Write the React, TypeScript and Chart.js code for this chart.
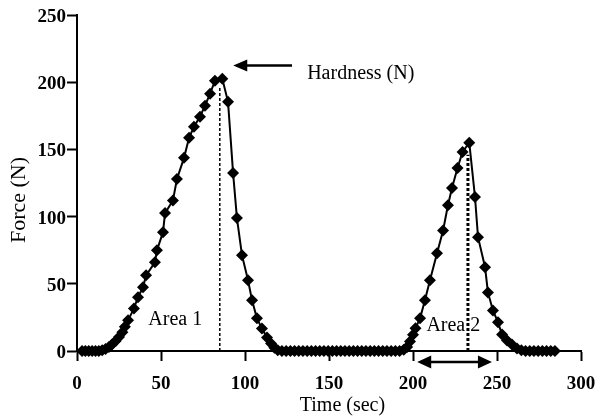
import React, { useEffect, useRef } from 'react';
import { Chart, registerables } from 'chart.js';

Chart.register(...registerables);

// Texture analyser trace: time (s) and force (N) for two compression cycles
const timeSec = [
  3, 5, 7, 9, 11, 13, 15,
  17, 19, 21, 23, 25, 27, 28.5, 30.4, 33.9, 36.3, 39.3, 41.1, 46.4, 47.6, 51.2, 52.4, 57.1, 59.5,
  63.7, 66.7, 69.6, 73.2, 76.2, 79.2, 82.1, 86.5,
  89.9, 92.9, 95.2, 98.2, 101.8, 104.2, 107.1, 110.1, 113.1, 115.5, 117.5, 119.5,
  122, 124.5, 127, 129.5, 132, 134.5, 137, 139.5, 142, 144.5, 147, 149.5, 152, 154.5, 157,
  159.5, 162, 164.5, 167, 169.5, 172, 174.5, 177, 179.5, 182, 184.5, 187, 189.5, 192,
  194.5, 196.5, 198.2, 200, 201.5, 204.2, 207.1, 210.1, 214.3, 217.9, 220.8, 223.2, 226.5, 229.5, 233.5,
  236.9, 238.7, 242.9, 244.6, 247.6, 250.6, 253, 256, 258.9, 261.9, 264.5,
  267, 269.5, 272, 274.5, 277, 279.5, 282, 284.5,
];

const forceN = [
  0, 0, 0, 0, 0, 0, 0.5,
  1.5, 3, 5, 7.5, 10.5, 14, 18, 22.8, 31.7, 40, 47.4, 56.3, 66, 75, 88.4, 102.6, 112, 128,
  143.7, 158.6, 166.8, 174.3, 182.5, 191.4, 201.1, 202.6,
  185.4, 132.5, 98.9, 71.3, 52.6, 37.7, 24.3, 16.8, 10.1, 5.5, 2.5, 0.5,
  0, 0, 0, 0, 0, 0, 0, 0, 0, 0, 0, 0, 0, 0, 0,
  0, 0, 0, 0, 0, 0, 0, 0, 0, 0, 0, 0, 0, 0,
  1, 3, 7, 12, 17, 24.3, 37.7, 52.6, 72.8, 89.7, 108.4, 121.3, 136.2, 148.1, 155,
  114.6, 84.7, 62.3, 43.6, 30.2, 21.3, 12.3, 7.8, 4.9, 1.9, 0.5,
  0, 0, 0, 0, 0, 0, 0, 0,
];

const xTicks = [0, 50, 100, 150, 200, 250, 300];
const yTicks = [0, 50, 100, 150, 200, 250];

const xTitle = 'Time (sec)';
const yTitle = 'Force (N)';

// Annotation anchors, in data units
const hardnessTime = 85;
const hardnessTop = 196;
const secondPeakTime = 232.7;
const secondPeakTop = 146;
const hardnessLabel = 'Hardness (N)';
const hardnessLabelAt = { x: 137, y: 206 };
const hardnessArrow = { from: 128, to: 93, y: 212.5 };
const area1Label = 'Area 1';
const area1At = { x: 58.5, y: 23 };
const area2Label = 'Area 2';
const area2At = { x: 224, y: 19 };
const area2Span = { from: 202.5, to: 247 };

const FONT = '"Liberation Serif", "Times New Roman", serif';

function arrowHead(ctx: CanvasRenderingContext2D, tipX: number, tipY: number, dir: number, len: number, half: number) {
  ctx.beginPath();
  ctx.moveTo(tipX, tipY);
  ctx.lineTo(tipX - dir * len, tipY - half);
  ctx.lineTo(tipX - dir * len, tipY + half);
  ctx.closePath();
  ctx.fill();
}

const guides = {
  id: 'guides',
  beforeDatasetsDraw(chart: any) {
    const { ctx, scales } = chart;
    const x = scales.x;
    const y = scales.y;
    ctx.save();
    ctx.strokeStyle = '#000';
    ctx.setLineDash([3, 2]);
    ctx.lineWidth = 1.5;
    const px1 = x.getPixelForValue(hardnessTime);
    ctx.beginPath();
    ctx.moveTo(px1, y.getPixelForValue(0));
    ctx.lineTo(px1, y.getPixelForValue(hardnessTop));
    ctx.stroke();
    ctx.lineWidth = 3;
    const px2 = x.getPixelForValue(secondPeakTime);
    ctx.beginPath();
    ctx.moveTo(px2, y.getPixelForValue(0));
    ctx.lineTo(px2, y.getPixelForValue(secondPeakTop));
    ctx.stroke();
    ctx.restore();
  },
  afterDatasetsDraw(chart: any) {
    const { ctx, scales, chartArea } = chart;
    const x = scales.x;
    const y = scales.y;
    ctx.save();
    ctx.fillStyle = '#000';
    ctx.strokeStyle = '#000';
    ctx.font = `20px ${FONT}`;
    ctx.textBaseline = 'middle';

    // Hardness label and arrow
    ctx.textAlign = 'left';
    ctx.fillText(hardnessLabel, x.getPixelForValue(hardnessLabelAt.x), y.getPixelForValue(hardnessLabelAt.y));
    const ay = y.getPixelForValue(hardnessArrow.y);
    const tail = x.getPixelForValue(hardnessArrow.from);
    const tip = x.getPixelForValue(hardnessArrow.to);
    ctx.lineWidth = 2.5;
    ctx.beginPath();
    ctx.moveTo(tail, ay);
    ctx.lineTo(tip + 10, ay);
    ctx.stroke();
    arrowHead(ctx, tip, ay, -1, 14, 6);

    // Area labels
    ctx.textAlign = 'center';
    ctx.fillText(area1Label, x.getPixelForValue(area1At.x), y.getPixelForValue(area1At.y));
    ctx.fillText(area2Label, x.getPixelForValue(area2At.x), y.getPixelForValue(area2At.y));

    // Double-headed span arrow under the second cycle
    const sy = y.getPixelForValue(0) + 11;
    const s0 = x.getPixelForValue(area2Span.from);
    const s1 = x.getPixelForValue(area2Span.to);
    ctx.lineWidth = 2.5;
    ctx.beginPath();
    ctx.moveTo(s0 + 10, sy);
    ctx.lineTo(s1 - 10, sy);
    ctx.stroke();
    arrowHead(ctx, s0, sy, -1, 14, 6.5);
    arrowHead(ctx, s1, sy, 1, 14, 6.5);

    // Axis titles
    ctx.textAlign = 'center';
    ctx.fillText(xTitle, x.getPixelForValue(158), chartArea.bottom + 55);
    ctx.font = `22px ${FONT}`;
    ctx.translate(chartArea.left - 58, (chartArea.top + chartArea.bottom) / 2 + 17);
    ctx.rotate(-Math.PI / 2);
    ctx.fillText(yTitle, 0, 0);
    ctx.restore();
  },
};

export default function App() {
  const ref = useRef<HTMLCanvasElement>(null);

  useEffect(() => {
    document.body.style.margin = '0';
    const points = timeSec.map((t, i) => ({ x: t, y: forceN[i] }));
    const axisCommon = {
      grid: { drawOnChartArea: false, tickLength: 10, tickWidth: 2, tickColor: '#000' },
      border: { color: '#000', width: 2 },
    };
    const chart = new Chart(ref.current as HTMLCanvasElement, {
      type: 'scatter',
      data: {
        datasets: [
          {
            data: points,
            showLine: true,
            clip: false,
            borderColor: '#000',
            borderWidth: 2,
            tension: 0,
            pointStyle: 'rectRot',
            pointRadius: 6,
            pointBackgroundColor: '#000',
            pointBorderColor: '#000',
            pointBorderWidth: 0,
          },
        ],
      },
      options: {
        animation: false,
        responsive: false,
        layout: { autoPadding: false, padding: { top: 15, right: 22, left: 0, bottom: 0 } },
        plugins: { legend: { display: false }, tooltip: { enabled: false } },
        scales: {
          x: {
            type: 'linear',
            min: 0,
            max: 300,
            ...axisCommon,
            afterBuildTicks: (s: any) => { s.ticks = xTicks.map((v) => ({ value: v })); },
            afterFit: (s: any) => { s.height = 66; s.paddingLeft = 0; s.paddingRight = 0; },
            ticks: { color: '#000', font: { family: FONT, size: 19, weight: 'bold' }, padding: 12, maxRotation: 0, autoSkip: false },
          },
          y: {
            type: 'linear',
            min: 0,
            max: 250,
            ...axisCommon,
            afterBuildTicks: (s: any) => { s.ticks = yTicks.map((v) => ({ value: v })); },
            afterFit: (s: any) => { s.width = 77; s.paddingTop = 0; s.paddingBottom = 0; },
            ticks: { color: '#000', font: { family: FONT, size: 19, weight: 'bold' }, padding: 1, labelOffset: 2, autoSkip: false },
          },
        },
      },
      plugins: [guides],
    } as any);
    return () => chart.destroy();
  }, []);

  return (
    <div style={{ position: 'absolute', left: 0, top: 0, width: 603, height: 417, background: '#fff' }}>
      <canvas ref={ref} width={603} height={417} style={{ display: 'block' }} />
    </div>
  );
}
